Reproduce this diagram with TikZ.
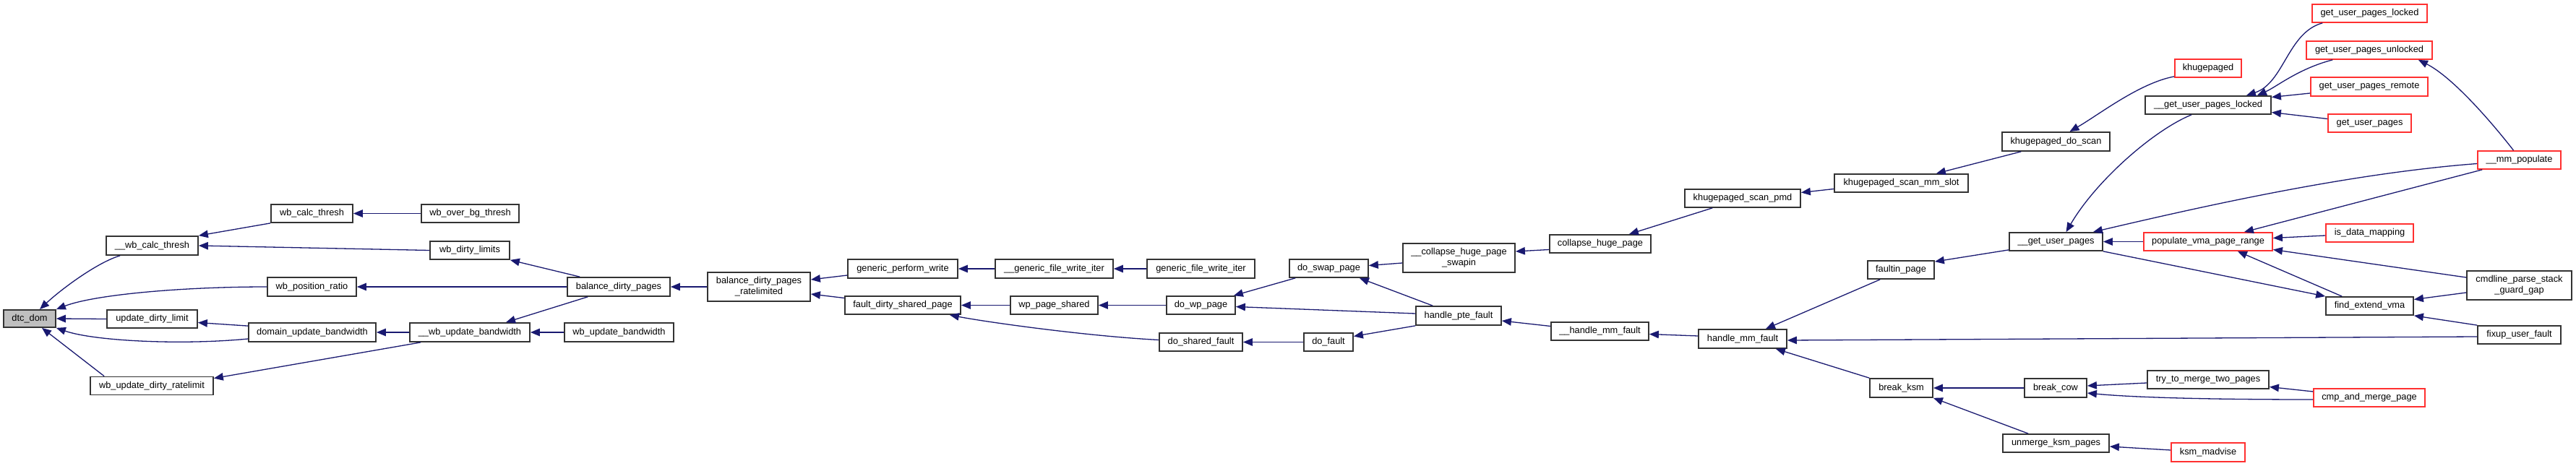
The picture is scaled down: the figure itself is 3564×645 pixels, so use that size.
\documentclass[tikz,border=0pt]{standalone}
\usepackage{fontspec}
\setmainfont{Liberation Sans}
\usetikzlibrary{arrows.meta,calc}
\definecolor{edgecol}{HTML}{191970}
\definecolor{nodered}{HTML}{FF3030}
\definecolor{nodeborder}{HTML}{333333}
\definecolor{dtcgray}{HTML}{BFBFBF}
\newcommand\nodefont{\fontsize{7.28pt}{8.4pt}\selectfont}
\tikzset{
  x=0.2mm, y=-0.2mm,
  fn/.style={draw=nodeborder, line width=0.35mm, fill=white, inner sep=0pt, font=\nodefont, align=center},
  rd/.style={fn, draw=nodered},
  sz/.style 2 args={minimum width=#1*0.2mm, minimum height=#2*0.2mm},
  cedge/.style={draw=edgecol, line width=0.26mm, arrows={Triangle[length=2.6mm,width=2.1mm]-}},
}
\begin{document}
\begin{tikzpicture}
\useasboundingbox (0,0) rectangle (3564,645);
\node[fn,sz={72}{24},fill=dtcgray] (dtcdom) at (41,441) {dtc\_dom};
\node[fn,sz={127}{26}] (wbct) at (210.5,340) {\_\_wb\_calc\_thresh};
\node[fn,sz={113}{25}] (wbcalc) at (431.5,295.5) {wb\_calc\_thresh};
\node[fn,sz={123}{26}] (wbpos) at (431.5,397) {wb\_position\_ratio};
\node[fn,sz={125}{25}] (udl) at (210.5,441.5) {update\_dirty\_limit};
\node[fn,sz={176}{26}] (dub) at (432,460) {domain\_update\_bandwidth};
\node[fn,sz={170}{25}] (wudr) at (210,534) {wb\_update\_dirty\_ratelimit};
\node[fn,sz={135}{25}] (wbover) at (650.5,295.5) {wb\_over\_bg\_thresh};
\node[fn,sz={110}{25}] (wbdl) at (650,346.5) {wb\_dirty\_limits};
\node[fn,sz={142}{26}] (bdp) at (856,397) {balance\_dirty\_pages};
\node[fn,sz={166}{26}] (wbub) at (650,460) {\_\_wb\_update\_bandwidth};
\node[fn,sz={151}{26}] (wbubtwo) at (856.5,460) {wb\_update\_bandwidth};
\node[fn,sz={142}{40}] (bdpr) at (1050,397) {balance\_dirty\_pages\\\_ratelimited};
\node[fn,sz={152}{26}] (gpw) at (1249,372) {generic\_perform\_write};
\node[fn,sz={160}{25}] (fdsp) at (1249,422.5) {fault\_dirty\_shared\_page};
\node[fn,sz={163}{26}] (ggfwi) at (1458.5,372) {\_\_generic\_file\_write\_iter};
\node[fn,sz={149}{26}] (gfwi) at (1661.5,372) {generic\_file\_write\_iter};
\node[fn,sz={121}{25}] (wps) at (1458.5,422.5) {wp\_page\_shared};
\node[fn,sz={95}{25}] (dwp) at (1661.5,422.5) {do\_wp\_page};
\node[fn,sz={115}{25}] (dsf) at (1661.5,473.5) {do\_shared\_fault};
\node[fn,sz={109}{25}] (dsp) at (1838.5,371.5) {do\_swap\_page};
\node[fn,sz={68}{25}] (dof) at (1838,473.5) {do\_fault};
\node[fn,sz={155}{40}] (chps) at (2018.5,357) {\_\_collapse\_huge\_page\\\_swapin};
\node[fn,sz={118}{26}] (hpf) at (2018,437) {handle\_pte\_fault};
\node[fn,sz={140}{25}] (chp) at (2214,337.5) {collapse\_huge\_page};
\node[fn,sz={135}{25}] (hmftwo) at (2213.5,458.5) {\_\_handle\_mm\_fault};
\node[fn,sz={160}{25}] (ksp) at (2411,274.5) {khugepaged\_scan\_pmd};
\node[fn,sz={122}{26}] (hmf) at (2411,469) {handle\_mm\_fault};
\node[fn,sz={185}{25}] (ksms) at (2630.5,253.5) {khugepaged\_scan\_mm\_slot};
\node[fn,sz={92}{25}] (fip) at (2630,373.5) {faultin\_page};
\node[fn,sz={87}{26}] (bksm) at (2630.5,537) {break\_ksm};
\node[fn,sz={149}{26}] (kds) at (2844.5,196) {khugepaged\_do\_scan};
\node[fn,sz={129}{25}] (gupi) at (2844.5,334.5) {\_\_get\_user\_pages};
\node[fn,sz={86}{26}] (bcow) at (2844,537) {break\_cow};
\node[fn,sz={147}{25}] (umk) at (2844.5,613.5) {unmerge\_ksm\_pages};
\node[rd,sz={92}{25}] (khp) at (3055,94.5) {khugepaged};
\node[fn,sz={174}{25}] (gupli) at (3055,145.5) {\_\_get\_user\_pages\_locked};
\node[rd,sz={178}{25}] (pvpr) at (3055,334.5) {populate\_vma\_page\_range};
\node[fn,sz={168}{25}] (ttm) at (3055,525.5) {try\_to\_merge\_two\_pages};
\node[rd,sz={102}{26}] (ksmm) at (3055,626) {ksm\_madvise};
\node[rd,sz={159}{25}] (gupl) at (3278.5,18.5) {get\_user\_pages\_locked};
\node[rd,sz={174}{25}] (gupu) at (3278,69.5) {get\_user\_pages\_unlocked};
\node[rd,sz={162}{26}] (gupr) at (3278,120) {get\_user\_pages\_remote};
\node[rd,sz={115}{25}] (gup) at (3278.5,170.5) {get\_user\_pages};
\node[rd,sz={121}{25}] (idm) at (3278.5,322.5) {is\_data\_mapping};
\node[fn,sz={121}{25}] (fev) at (3278.5,423.5) {find\_extend\_vma};
\node[rd,sz={154}{25}] (camp) at (3278,550.5) {cmp\_and\_merge\_page};
\node[rd,sz={115}{25}] (mmp) at (3485.5,221.5) {\_\_mm\_populate};
\node[fn,sz={145}{40}] (cpsgg) at (3485.5,395) {cmdline\_parse\_stack\\\_guard\_gap};
\node[fn,sz={115}{25}] (fuf) at (3485.5,463.5) {fixup\_user\_fault};

\draw[cedge] ($(dtcdom.north)+(14,0)$) .. controls (85,400) and (135,363) .. ($(wbct.south west)+(20,0)$);
\draw[cedge] (dtcdom.north east) .. controls (130,408) and (250,397) .. (wbpos.west);
\draw[cedge] (dtcdom.east) -- (udl.west);
\draw[cedge] (dtcdom.south east) .. controls (130,472) and (250,478) .. ($(dub.west)+(0,9)$);
\draw[cedge] ($(dtcdom.south)+(17,0)$) -- ($(wudr.north west)+(20,0)$);
\draw[cedge] (wbct.north east) -- (wbcalc.south west);
\draw[cedge] (wbct.east) -- (wbdl.west);
\draw[cedge] (wbcalc.east) -- (wbover.west);
\draw[cedge] (wbdl.south east) -- ($(bdp.north west)+(18,0)$);
\draw[cedge] (wbpos.east) -- (bdp.west);
\draw[cedge] ($(udl.east)+(0,5)$) -- ($(dub.north west)+(0,5)$);
\draw[cedge] (dub.east) -- (wbub.west);
\draw[cedge] ($(wbub.north)+(50,0)$) -- ($(bdp.south west)+(29,0)$);
\draw[cedge] (wbub.east) -- (wbubtwo.west);
\draw[cedge] ($(wudr.north east)+(0,3)$) -- ($(wbub.south west)+(16,0)$);
\draw[cedge] (bdp.east) -- (bdpr.west);
\draw[cedge] ($(bdpr.east)+(0,-10)$) -- ($(gpw.west)+(0,9)$);
\draw[cedge] ($(bdpr.east)+(0,10)$) -- ($(fdsp.west)+(0,-10)$);
\draw[cedge] (gpw.east) -- (ggfwi.west);
\draw[cedge] (ggfwi.east) -- (gfwi.west);
\draw[cedge] (fdsp.east) -- (wps.west);
\draw[cedge] ($(fdsp.south east)+(-16,0)$) .. controls (1360,445) and (1500,465) .. ($(dsf.west)+(0,-3)$);
\draw[cedge] (wps.east) -- (dwp.west);
\draw[cedge] ($(dwp.north east)+(-3,0)$) -- ($(dsp.south west)+(9,0)$);
\draw[cedge] ($(dwp.east)+(0,2)$) -- ($(hpf.west)+(0,-3)$);
\draw[cedge] (dsf.east) -- (dof.west);
\draw[cedge] ($(dsp.east)+(0,-4)$) -- ($(chps.west)+(0,7)$);
\draw[cedge] ($(dsp.south east)+(-13,0)$) -- ($(hpf.north west)+(24,0)$);
\draw[cedge] ($(dof.east)+(0,-8)$) -- (hpf.south west);
\draw[cedge] ($(chps.east)+(0,-9)$) -- ($(chp.west)+(0,8)$);
\draw[cedge] ($(chp.north east)+(-31,0)$) -- ($(ksp.south west)+(39,0)$);
\draw[cedge] ($(ksp.east)+(0,-8)$) -- ($(ksms.west)+(0,8)$);
\draw[cedge] ($(ksms.north east)+(-45,0)$) -- ($(kds.south west)+(27,0)$);
\draw[cedge] ($(kds.north)+(19,0)$) .. controls (2905,158) and (2960,115) .. ($(khp.south west)+(0,-2)$);
\draw[cedge] ($(hpf.east)+(0,7)$) -- ($(hmftwo.west)+(0,-7)$);
\draw[cedge] ($(hmftwo.east)+(0,4)$) -- ($(hmf.west)+(0,-4)$);
\draw[cedge] ($(hmf.north)+(32,0)$) -- ($(fip.south west)+(18,0)$);
\draw[cedge] ($(hmf.east)+(0,2)$) -- ($(fuf.west)+(0,2.5)$);
\draw[cedge] ($(hmf.south east)+(-16,0)$) -- (bksm.north west);
\draw[cedge] ($(fip.north east)+(0,2)$) -- ($(gupi.south west)+(0,-2)$);
\draw[cedge] (bksm.east) -- (bcow.west);
\draw[cedge] (bksm.south east) -- ($(umk.north west)+(36,0)$);
\draw[cedge] ($(gupi.north)+(14,0)$) .. controls (2900,250) and (2980,180) .. ($(gupli.south)+(-23,0)$);
\draw[cedge] ($(gupi.north east)+(-14,0)$) .. controls (3050,285) and (3250,240) .. ($(mmp.west)+(0,5)$);
\draw[cedge] (gupi.east) -- (pvpr.west);
\draw[cedge] (fev.north west) -- (gupi.south east);
\draw[cedge] ($(gupli.north east)+(-35,0)$) .. controls (3160,115) and (3165,45) .. ($(gupl.south west)+(15,0)$);
\draw[cedge] ($(gupli.north east)+(-20,0)$) .. controls (3150,120) and (3180,95) .. ($(gupu.south west)+(37,0)$);
\draw[cedge] ($(gupli.east)+(0,-11)$) -- ($(gupr.west)+(0,9)$);
\draw[cedge] ($(gupli.east)+(0,10)$) -- ($(gup.west)+(0,-6)$);
\draw[cedge] ($(gupu.south east)+(-20,0)$) .. controls (3390,105) and (3440,160) .. ($(mmp.north)+(-8,0)$);
\draw[cedge] ($(pvpr.north east)+(-40,0)$) -- ($(mmp.south west)+(7,0)$);
\draw[cedge] ($(pvpr.east)+(0,-5)$) -- ($(idm.west)+(0,3.5)$);
\draw[cedge] ($(pvpr.east)+(0,11)$) -- ($(cpsgg.west)+(0,-11)$);
\draw[cedge] ($(pvpr.south east)+(-49,0)$) -- ($(fev.north west)+(23,0)$);
\draw[cedge] ($(fev.east)+(0,-9)$) -- ($(cpsgg.west)+(0,10)$);
\draw[cedge] (fev.south east) -- (fuf.north west);
\draw[cedge] ($(bcow.east)+(0,-3)$) -- ($(ttm.west)+(0,4.5)$);
\draw[cedge] ($(bcow.east)+(0,7)$) .. controls (2950,550) and (3050,553) .. ($(camp.west)+(0,2.5)$);
\draw[cedge] ($(ttm.east)+(0,10)$) -- ($(camp.west)+(0,-8.5)$);
\draw[cedge] ($(umk.east)+(0,4.5)$) -- ($(ksmm.west)+(0,-3)$);
\end{tikzpicture}
\end{document}
